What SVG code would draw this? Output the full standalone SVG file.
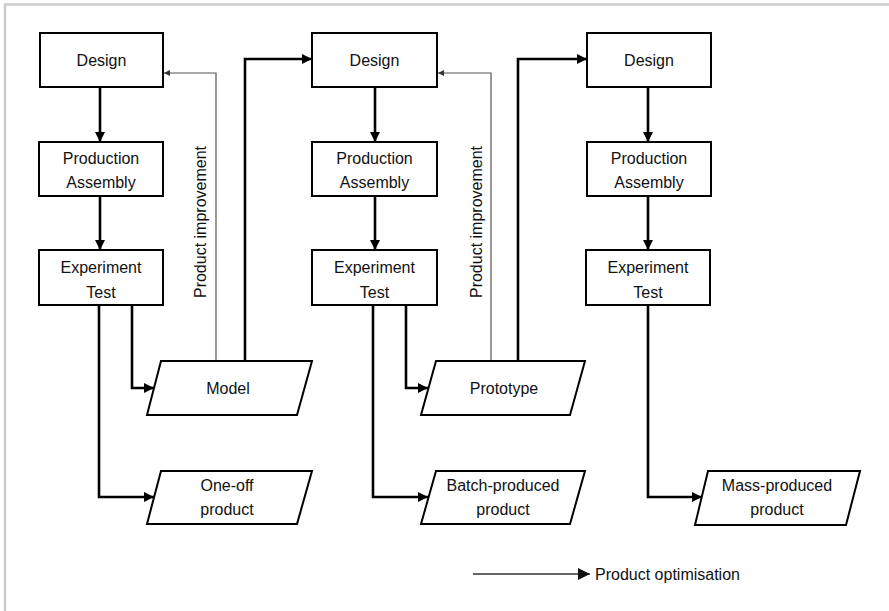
<svg xmlns="http://www.w3.org/2000/svg" width="889" height="611" viewBox="0 0 889 611">
  <defs>
    <marker id="arr" viewBox="0 0 10 10" refX="10" refY="5" markerWidth="4" markerHeight="4" orient="auto" markerUnits="strokeWidth">
      <path d="M0,0 L10,5 L0,10 z" fill="#000"/>
    </marker>
    <marker id="arrThin" viewBox="0 0 10 10" refX="10" refY="5" markerWidth="8" markerHeight="8" orient="auto" markerUnits="strokeWidth">
      <path d="M0,0 L10,5 L0,10 z" fill="#111"/>
    </marker>
    <marker id="arrSmall" viewBox="0 0 10 10" refX="10" refY="5" markerWidth="6" markerHeight="5" orient="auto" markerUnits="strokeWidth">
      <path d="M0,0 L10,5 L0,10 z" fill="#333"/>
    </marker>
    <style>
      .box { fill: #fff; stroke: #000; stroke-width: 2; }
      .lbl { font-family: "Liberation Sans", Arial, sans-serif; font-size: 16px; fill: #111; text-anchor: middle; }
      .flow { fill: none; stroke: #000; stroke-width: 2.6; marker-end: url(#arr); }
      .link { fill: none; stroke: #000; stroke-width: 2.6; }
      .fb { fill: none; stroke: #555; stroke-width: 1.2; marker-end: url(#arrSmall); }
      .frame { stroke: #cccccc; stroke-width: 2.5; }
    </style>
  </defs>

  <rect width="889" height="611" fill="#fff"/>
  <!-- frame edges -->
  <line class="frame" x1="4" y1="4.5" x2="889" y2="4.5"/>
  <line class="frame" x1="5" y1="4" x2="5" y2="611"/>

  <!-- connectors -->
  <g id="connectors">
    <!-- column 1 -->
    <line class="flow" x1="100" y1="87" x2="100" y2="142"/>
    <line class="flow" x1="100" y1="196" x2="100" y2="250"/>
    <polyline class="flow" points="132,305 132,388 154,388"/>
    <polyline class="flow" points="99,305 99,497 154,497"/>
    <polyline class="fb" points="216,361 216,73 164,73"/>
    <polyline class="flow" points="245,361 245,59 312,59"/>
    <!-- column 2 -->
    <line class="flow" x1="375" y1="87" x2="375" y2="142"/>
    <line class="flow" x1="375" y1="196" x2="375" y2="250"/>
    <polyline class="flow" points="406,305 406,388 428,388"/>
    <polyline class="flow" points="373,305 373,497 428,497"/>
    <polyline class="fb" points="491,361 491,73 438,73"/>
    <polyline class="flow" points="518,361 518,59 587,59"/>
    <!-- column 3 -->
    <line class="flow" x1="648" y1="87" x2="648" y2="142"/>
    <line class="flow" x1="648" y1="196" x2="648" y2="250"/>
    <polyline class="flow" points="648,305 648,497 702,497"/>
    <!-- legend -->
    <line x1="473" y1="574" x2="590" y2="574" stroke="#333" stroke-width="1.5" marker-end="url(#arrThin)"/>
  </g>

  <!-- column 1 nodes -->
  <g id="design1">
    <rect class="box" x="40" y="33" width="123" height="54"/>
    <text class="lbl" x="101.5" y="66">Design</text>
  </g>
  <g id="production1">
    <rect class="box" x="39" y="142" width="124" height="54"/>
    <text class="lbl" x="101" y="164">Production</text>
    <text class="lbl" x="101" y="188">Assembly</text>
  </g>
  <g id="test1">
    <rect class="box" x="39" y="250" width="124" height="55"/>
    <text class="lbl" x="101" y="273">Experiment</text>
    <text class="lbl" x="101" y="298">Test</text>
  </g>
  <g id="model">
    <polygon class="box" points="161,361 312,361 297,415 147,415"/>
    <text class="lbl" x="228" y="394">Model</text>
  </g>
  <g id="oneoff">
    <polygon class="box" points="161,471 312,471 297,524 147,524"/>
    <text class="lbl" x="227" y="491">One-off</text>
    <text class="lbl" x="227" y="515">product</text>
  </g>

  <!-- column 2 nodes -->
  <g id="design2">
    <rect class="box" x="312" y="33" width="125" height="54"/>
    <text class="lbl" x="374.5" y="66">Design</text>
  </g>
  <g id="production2">
    <rect class="box" x="312" y="142" width="125" height="54"/>
    <text class="lbl" x="374.5" y="164">Production</text>
    <text class="lbl" x="374.5" y="188">Assembly</text>
  </g>
  <g id="test2">
    <rect class="box" x="312" y="250" width="125" height="55"/>
    <text class="lbl" x="374.5" y="273">Experiment</text>
    <text class="lbl" x="374.5" y="298">Test</text>
  </g>
  <g id="prototype">
    <polygon class="box" points="436,361 585,361 570,415 421,415"/>
    <text class="lbl" x="504" y="394">Prototype</text>
  </g>
  <g id="batch">
    <polygon class="box" points="436,471 585,471 570,524 421,524"/>
    <text class="lbl" x="503" y="491">Batch-produced</text>
    <text class="lbl" x="503" y="515">product</text>
  </g>

  <!-- column 3 nodes -->
  <g id="design3">
    <rect class="box" x="587" y="33" width="124" height="54"/>
    <text class="lbl" x="649" y="66">Design</text>
  </g>
  <g id="production3">
    <rect class="box" x="587" y="142" width="124" height="54"/>
    <text class="lbl" x="649" y="164">Production</text>
    <text class="lbl" x="649" y="188">Assembly</text>
  </g>
  <g id="test3">
    <rect class="box" x="586" y="250" width="124" height="55"/>
    <text class="lbl" x="648" y="273">Experiment</text>
    <text class="lbl" x="648" y="298">Test</text>
  </g>
  <g id="mass">
    <polygon class="box" points="708,471 860,471 846,525 695,525"/>
    <text class="lbl" x="777" y="491">Mass-produced</text>
    <text class="lbl" x="777" y="515">product</text>
  </g>

  <!-- feedback labels -->
  <g id="improve1">
    <text class="lbl" transform="translate(206,222) rotate(-90)">Product improvement</text>
  </g>
  <g id="improve2">
    <text class="lbl" transform="translate(482,222) rotate(-90)">Product improvement</text>
  </g>

  <!-- legend -->
  <g id="legend">
    <text class="lbl" x="595" y="580" style="text-anchor:start">Product optimisation</text>
  </g>
</svg>
